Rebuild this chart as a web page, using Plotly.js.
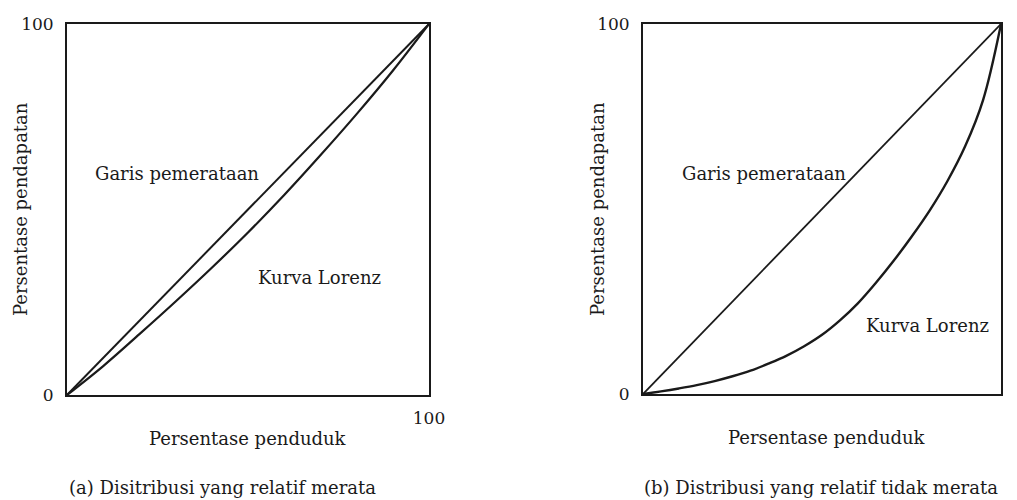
<!DOCTYPE html>
<html>
<head>
<meta charset="utf-8">
<script src="https://cdn.plot.ly/plotly-3.0.1.min.js"></script>
<style>html,body{margin:0;padding:0;background:#fff;}#chart{width:1017px;height:500px;}</style>
</head>
<body>
<div id="chart"></div>
<script>
// Data
const equalityX = [0, 100];
const equalityY = [0, 100];
const lorenzA_X = [0, 10, 20, 30, 40, 50, 60, 70, 80, 90, 100];
const lorenzA_Y = [0, 7.8, 16.4, 25.2, 34.3, 43.8, 53.9, 64.6, 75.7, 87.4, 100];
const lorenzB_X = [0, 5, 10, 15, 20, 25, 30, 35, 40, 45, 50, 55, 60, 65, 70, 75, 80, 85, 90, 95, 100];
const lorenzB_Y = [0, 0.7, 1.5, 2.4, 3.5, 4.8, 6.3, 8.2, 10.3, 12.9, 16, 19.9, 24.5, 30, 36, 42.5, 49.5, 57.5, 67, 79.5, 100];
const yTickVals = [0, 100];
const yTickText = ["0", "100"];
const xTickVals = [100];
const xTickText = ["100"];
const labelEquality = "Garis pemerataan";
const labelLorenz = "Kurva Lorenz";
const xTitle = "Persentase penduduk";
const yTitle = "Persentase pendapatan";
const captionA = "(a) Disitribusi yang relatif merata";
const captionB = "(b) Distribusi yang relatif tidak merata";

const FONT = "DejaVu Serif, serif";
const INK = "#1a1a1a";

const traces = [
  {x: equalityX, y: equalityY, xaxis: 'x', yaxis: 'y', mode: 'lines', line: {color: INK, width: 2}, hoverinfo: 'skip'},
  {x: lorenzA_X, y: lorenzA_Y, xaxis: 'x', yaxis: 'y', mode: 'lines', line: {color: INK, width: 2.2, shape: 'spline', smoothing: 1}, hoverinfo: 'skip'},
  {x: equalityX, y: equalityY, xaxis: 'x2', yaxis: 'y2', mode: 'lines', line: {color: INK, width: 1.8}, hoverinfo: 'skip'},
  {x: lorenzB_X, y: lorenzB_Y, xaxis: 'x2', yaxis: 'y2', mode: 'lines', line: {color: INK, width: 2.4, shape: 'spline', smoothing: 1}, hoverinfo: 'skip'}
];

function xax(domain, anchor) {
  return {domain: domain, anchor: anchor, range: [0, 100], showgrid: false, zeroline: false,
    showline: true, mirror: true, linecolor: INK, linewidth: 2, ticks: '',
    tickvals: xTickVals, ticktext: xTickText, ticklabelstandoff: 7,
    tickfont: {family: FONT, size: 17, color: INK}, fixedrange: true};
}
function yax(domain, anchor) {
  return {domain: domain, anchor: anchor, range: [0, 100], showgrid: false, zeroline: false,
    showline: true, mirror: true, linecolor: INK, linewidth: 2, ticks: '',
    tickvals: yTickVals, ticktext: yTickText, ticklabelstandoff: 8,
    tickfont: {family: FONT, size: 17, color: INK}, fixedrange: true};
}

const txt = (text, x, y, xref, yref, extra) => Object.assign({
  text: text, x: x, y: y, xref: xref, yref: yref, showarrow: false,
  font: {family: FONT, size: 18, color: INK}, xanchor: 'center', yanchor: 'middle'
}, extra || {});

const layout = {
  width: 1017, height: 500,
  margin: {l: 0, r: 0, t: 0, b: 0},
  paper_bgcolor: '#fff', plot_bgcolor: '#fff',
  showlegend: false,
  xaxis: xax([0.0659, 0.4218], 'y'),
  yaxis: yax([0.21, 0.952], 'x'),
  xaxis2: xax([0.6323, 0.9843], 'y2'),
  yaxis2: yax([0.212, 0.952], 'x2'),
  annotations: [
    txt(labelEquality, 30.5, 59.8, 'x', 'y'),
    txt(labelLorenz, 69.8, 31.8, 'x', 'y'),
    txt(labelEquality, 33.9, 59.7, 'x2', 'y2'),
    txt(labelLorenz, 79.5, 18.6, 'x2', 'y2'),
    txt(xTitle, 0.2439, 0.124, 'paper', 'paper'),
    txt(xTitle, 0.813, 0.126, 'paper', 'paper'),
    txt(yTitle, 0.0197, 0.582, 'paper', 'paper', {textangle: -90}),
    txt(yTitle, 0.587, 0.582, 'paper', 'paper', {textangle: -90}),
    txt(captionA, 0.219, 0.026, 'paper', 'paper'),
    txt(captionB, 0.807, 0.026, 'paper', 'paper')
  ]
};

Plotly.newPlot('chart', traces, layout, {staticPlot: true, displayModeBar: false});
</script>
</body>
</html>
